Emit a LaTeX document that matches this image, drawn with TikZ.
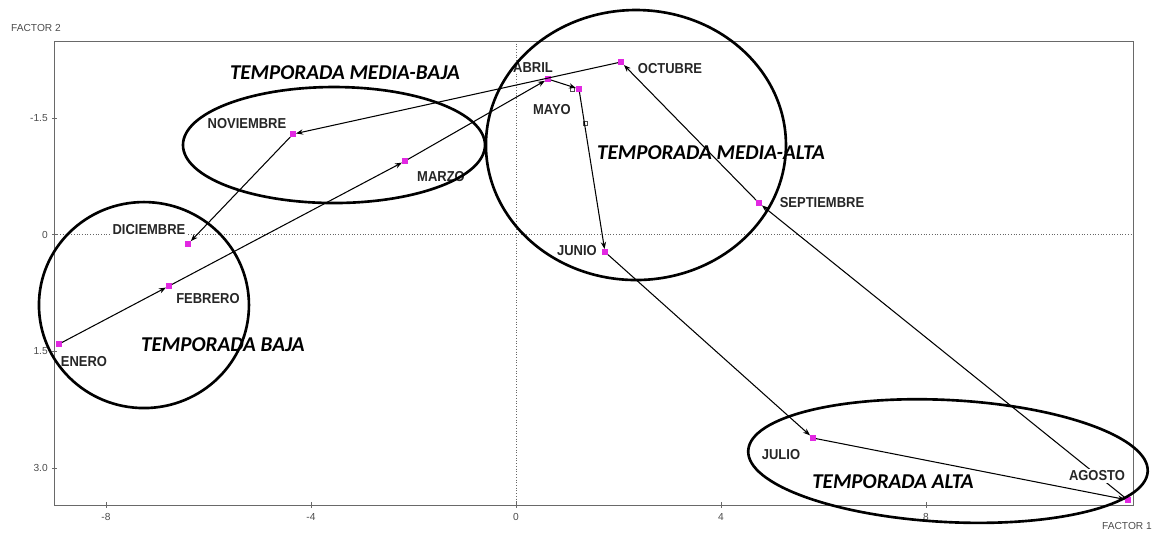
\documentclass[tikz,border=0pt]{standalone}
\usepackage{fontspec}
\setmainfont{Liberation Sans}
\newfontfamily\mesfont[FakeStretch=0.9]{Liberation Sans}
\newfontfamily\temporadafont{Carlito}
\usetikzlibrary{arrows.meta}
\definecolor{puntomag}{RGB}{226,40,226}
\definecolor{ejegris}{RGB}{105,105,105}
\tikzset{
  pt/.style={rectangle, fill=puntomag, inner sep=0pt, minimum size=3pt},
  hueco/.style={rectangle, draw=black!70, fill=white, line width=0.4pt, inner sep=0pt, minimum size=2.4pt},
  flecha/.style={line width=0.6pt, -{Stealth[length=4pt,width=3pt]}},
  mes/.style={fill=white, inner sep=0.8pt, text=black!85, font=\mesfont\bfseries\fontsize{8.2}{9}\selectfont},
  etapa/.style={inner sep=0pt, font=\temporadafont\bfseries\itshape\fontsize{12}{14}\selectfont},
  grupo/.style={line width=1.5pt},
  eje/.style={ejegris, line width=0.5pt},
  ejetexto/.style={inner sep=0pt, text=black!70, font=\fontsize{5.8}{6}\selectfont},
  cero/.style={black!60, densely dotted, line width=0.55pt}
}
\begin{document}
\begin{tikzpicture}[x=1.025cm, y=-1.556cm]
  \useasboundingbox (-10.068,-3.017) rectangle (12.449,3.834);
    %%marco
    \draw[eje] (-9,-2.49) rectangle (12.04,3.474);
    \draw[cero] (0,-2.49) to (0,3.474);
    \draw[cero] (-9,0) to (12.04,0);
      %%factor 2
      \draw[eje] (-9.05,-1.5) to (-8.95,-1.5);
      \draw[eje] (-9.05,0) to (-8.95,0);
      \draw[eje] (-9.05,1.5) to (-8.95,1.5);
      \draw[eje] (-9.05,3) to (-8.95,3);
      \node[ejetexto, anchor=east] (ym15) at (-9.13,-1.5) {-1.5};
      \node[ejetexto, anchor=east] (y0) at (-9.13,0) {0};
      \node[ejetexto, anchor=east] (y15) at (-9.13,1.5) {1.5};
      \node[ejetexto, anchor=east] (y30) at (-9.13,3) {3.0};
      %%factor 1
      \draw[eje] (-8,3.436) to (-8,3.513);
      \draw[eje] (-4,3.436) to (-4,3.513);
      \draw[eje] (0,3.436) to (0,3.513);
      \draw[eje] (4,3.436) to (4,3.513);
      \draw[eje] (8,3.436) to (8,3.513);
      \node[ejetexto] (xm8) at (-8,3.63) {-8};
      \node[ejetexto] (xm4) at (-4,3.63) {-4};
      \node[ejetexto] (x0) at (0,3.63) {0};
      \node[ejetexto] (x4) at (4,3.63) {4};
      \node[ejetexto] (x8) at (8,3.63) {8};
    \node[ejetexto] (fac2) at (-9.366,-2.657) {FACTOR 2};
    \node[ejetexto] (fac1) at (11.922,3.744) {FACTOR 1};

    %%meses
    \node[pt] (ene) at (-8.917,1.405) {};
    \node[pt] (feb) at (-6.771,0.659) {};
    \node[pt] (mar) at (-2.166,-0.947) {};
    \node[pt] (abr) at (0.624,-2.001) {};
    \node[pt] (may) at (1.229,-1.873) {};
    \node[pt] (jun) at (1.737,0.222) {};
    \node[pt] (jul) at (5.795,2.613) {};
    \node[pt] (ago) at (11.941,3.410) {};
    \node[pt] (sep) at (4.741,-0.407) {};
    \node[pt] (oct) at (2.049,-2.220) {};
    \node[pt] (nov) at (-4.351,-1.293) {};
    \node[pt] (dic) at (-6.400,0.120) {};
      \node[hueco] (h1) at (1.093,-1.872) {};
      \node[hueco] (h2) at (1.346,-1.436) {};

    %%recorrido
    \draw[flecha] (ene) to (feb);
    \draw[flecha] (feb) to (mar);
    \draw[flecha] (mar) to (abr);
    \draw[flecha] (abr) to (may);
    \draw[flecha] (may) to (jun);
    \draw[flecha] (jun) to (jul);
    \draw[flecha] (jul) to (ago);
    \draw[flecha] (ago) to (sep);
    \draw[flecha] (sep) to (oct);
    \draw[flecha] (oct) to (nov);
    \draw[flecha] (nov) to (dic);

    %%nombres
    \node[mes] (lene) at (-8.429,1.636) {ENERO};
    \node[mes] (lfeb) at (-6.010,0.826) {FEBRERO};
    \node[mes] (lmar) at (-1.463,-0.742) {MARZO};
    \node[mes] (labr) at (0.332,-2.155) {ABRIL};
    \node[mes] (lmay) at (0.702,-1.603) {MAYO};
    \node[mes] (ljun) at (1.190,0.197) {JUNIO};
    \node[mes] (ljul) at (5.171,2.819) {JULIO};
    \node[mes] (lago) at (11.337,3.101) {AGOSTO};
    \node[mes] (lsep) at (5.971,-0.420) {SEPTIEMBRE};
    \node[mes] (loct) at (3.005,-2.142) {OCTUBRE};
    \node[mes] (lnov) at (-5.249,-1.423) {NOVIEMBRE};
    \node[mes] (ldic) at (-7.161,-0.073) {DICIEMBRE};

    %%temporadas
    \draw[grupo] (-7.259,0.904) ellipse [x radius=2.10cm, y radius=2.06cm];
    \draw[grupo] (-3.551,-1.153) ellipse [x radius=3.02cm, y radius=1.16cm];
    \draw[grupo] (2.341,-1.153) ellipse [x radius=3.00cm, y radius=2.70cm];
    \draw[grupo] (8.429,2.909) ellipse [x radius=4.00cm, y radius=1.22cm, rotate=-3];
    \node[etapa] (tbaja) at (-5.717,1.417) {TEMPORADA BAJA};
    \node[etapa] (tmbaja) at (-3.337,-2.078) {TEMPORADA MEDIA-BAJA};
    \node[etapa] (tmalta) at (3.805,-1.050) {TEMPORADA MEDIA-ALTA};
    \node[etapa] (talta) at (7.356,3.178) {TEMPORADA ALTA};
\end{tikzpicture}
\end{document}
